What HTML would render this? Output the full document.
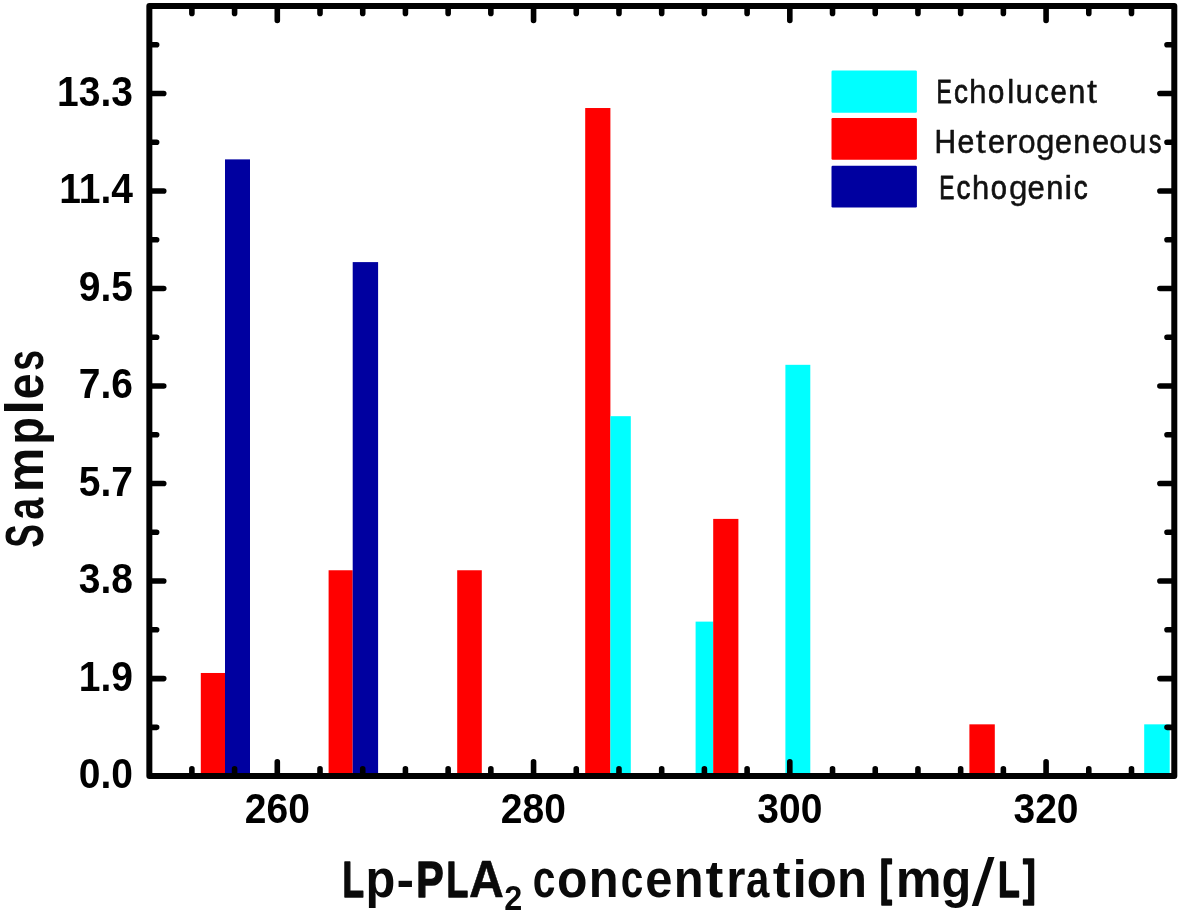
<!DOCTYPE html>
<html lang="en">
<head>
<meta charset="utf-8">
<title>Lp-PLA2 concentration histogram</title>
<style>
html,body{margin:0;padding:0;background:#fff;}
body{width:1181px;height:913px;overflow:hidden;}
svg{display:block;}
.tick{font-family:"Liberation Sans",sans-serif;font-weight:bold;font-size:39px;fill:#000;}
.leg{font-family:"Liberation Sans",sans-serif;font-size:34px;fill:#111;stroke:#111;stroke-width:0.35px;stroke-linejoin:round;}
.axl{font-family:"Liberation Sans",sans-serif;font-weight:bold;fill:#0a0a0a;stroke:#0a0a0a;stroke-width:0;stroke-linejoin:round;}
</style>
</head>
<body>
<svg width="1181" height="913" viewBox="0 0 1181 913">
<rect x="0" y="0" width="1181" height="913" fill="#ffffff"/>
<g id="bars">
<rect x="200.8" y="672.98" width="24.2" height="103.12" fill="#ff0000"/>
<rect x="225" y="159.38" width="25" height="616.72" fill="#0000a0"/>
<rect x="328.6" y="570.26" width="24.1" height="205.84" fill="#ff0000"/>
<rect x="352.7" y="262.1" width="25.4" height="514" fill="#0000a0"/>
<rect x="457.2" y="570.26" width="24.6" height="205.84" fill="#ff0000"/>
<rect x="585.2" y="108.02" width="25.2" height="668.08" fill="#ff0000"/>
<rect x="610.4" y="416.18" width="20.4" height="359.92" fill="#00ffff"/>
<rect x="695.6" y="621.62" width="17.6" height="154.48" fill="#00ffff"/>
<rect x="713.2" y="518.9" width="25.2" height="257.2" fill="#ff0000"/>
<rect x="785.4" y="364.82" width="24.9" height="411.28" fill="#00ffff"/>
<rect x="969.4" y="724.34" width="25.4" height="51.76" fill="#ff0000"/>
<rect x="1144.2" y="724.34" width="25.5" height="51.76" fill="#00ffff"/>
</g>
<g id="ticks" stroke="#000" stroke-width="5.6" stroke-linecap="round" fill="none">
<path d="M191.88 774.1 V768.8 M191.88 8.1 V13.4"/>
<path d="M234.59 774.1 V768.8 M234.59 8.1 V13.4"/>
<path d="M277.3 774.1 V761.7 M277.3 8.1 V20.5"/>
<path d="M320.01 774.1 V768.8 M320.01 8.1 V13.4"/>
<path d="M362.72 774.1 V768.8 M362.72 8.1 V13.4"/>
<path d="M405.43 774.1 V768.8 M405.43 8.1 V13.4"/>
<path d="M448.14 774.1 V768.8 M448.14 8.1 V13.4"/>
<path d="M490.85 774.1 V768.8 M490.85 8.1 V13.4"/>
<path d="M533.56 774.1 V761.7 M533.56 8.1 V20.5"/>
<path d="M576.27 774.1 V768.8 M576.27 8.1 V13.4"/>
<path d="M618.98 774.1 V768.8 M618.98 8.1 V13.4"/>
<path d="M661.69 774.1 V768.8 M661.69 8.1 V13.4"/>
<path d="M704.4 774.1 V768.8 M704.4 8.1 V13.4"/>
<path d="M747.11 774.1 V768.8 M747.11 8.1 V13.4"/>
<path d="M789.82 774.1 V761.7 M789.82 8.1 V20.5"/>
<path d="M832.53 774.1 V768.8 M832.53 8.1 V13.4"/>
<path d="M875.24 774.1 V768.8 M875.24 8.1 V13.4"/>
<path d="M917.95 774.1 V768.8 M917.95 8.1 V13.4"/>
<path d="M960.66 774.1 V768.8 M960.66 8.1 V13.4"/>
<path d="M1003.37 774.1 V768.8 M1003.37 8.1 V13.4"/>
<path d="M1046.08 774.1 V761.7 M1046.08 8.1 V20.5"/>
<path d="M1088.79 774.1 V768.8 M1088.79 8.1 V13.4"/>
<path d="M1131.5 774.1 V768.8 M1131.5 8.1 V13.4"/>
<path d="M151.35 727.34 H156.65 M1172.3 727.34 H1167"/>
<path d="M151.35 678.58 H163.75 M1172.3 678.58 H1159.9"/>
<path d="M151.35 629.82 H156.65 M1172.3 629.82 H1167"/>
<path d="M151.35 581.06 H163.75 M1172.3 581.06 H1159.9"/>
<path d="M151.35 532.3 H156.65 M1172.3 532.3 H1167"/>
<path d="M151.35 483.54 H163.75 M1172.3 483.54 H1159.9"/>
<path d="M151.35 434.78 H156.65 M1172.3 434.78 H1167"/>
<path d="M151.35 386.02 H163.75 M1172.3 386.02 H1159.9"/>
<path d="M151.35 337.26 H156.65 M1172.3 337.26 H1167"/>
<path d="M151.35 288.5 H163.75 M1172.3 288.5 H1159.9"/>
<path d="M151.35 239.74 H156.65 M1172.3 239.74 H1167"/>
<path d="M151.35 190.98 H163.75 M1172.3 190.98 H1159.9"/>
<path d="M151.35 142.22 H156.65 M1172.3 142.22 H1167"/>
<path d="M151.35 93.46 H163.75 M1172.3 93.46 H1159.9"/>
<path d="M151.35 44.7 H156.65 M1172.3 44.7 H1167"/>
</g>
<rect x="149.35" y="6.1" width="1024.95" height="770" fill="none" stroke="#000" stroke-width="6" stroke-linejoin="round"/>
<g class="tick" text-anchor="middle">
<text transform="translate(277.3 823.2) scale(1 1.085)">260</text>
<text transform="translate(533.3 823.2) scale(1 1.085)">280</text>
<text transform="translate(789.8 823.2) scale(1 1.085)">300</text>
<text transform="translate(1046 823.2) scale(1 1.085)">320</text>
</g>
<g class="tick" text-anchor="end">
<text transform="translate(133 788.2) scale(1 1.085)">0.0</text>
<text transform="translate(133 690.68) scale(1 1.085)">1.9</text>
<text transform="translate(133 593.16) scale(1 1.085)">3.8</text>
<text transform="translate(133 495.64) scale(1 1.085)">5.7</text>
<text transform="translate(133 398.12) scale(1 1.085)">7.6</text>
<text transform="translate(133 300.6) scale(1 1.085)">9.5</text>
<text transform="translate(133 203.08) scale(1 1.085)">11.4</text>
<text transform="translate(133 105.56) scale(1 1.085)">13.3</text>
</g>
<g id="legend">
<rect x="831.5" y="70.6" width="85.4" height="42.1" rx="1.2" fill="#00ffff"/>
<rect x="831.5" y="118" width="85.4" height="41.8" rx="1.2" fill="#ff0000"/>
<rect x="831.5" y="165.8" width="85.4" height="41.7" rx="1.2" fill="#0000a0"/>
<text class="leg" y="103"><tspan x="936.4" y="102.6" font-size="32.84" stroke-width="0.8" textLength="15.31" lengthAdjust="spacingAndGlyphs">E</tspan><tspan x="953.96" y="102.6" font-size="32.84" stroke-width="0.8" textLength="13.94" lengthAdjust="spacingAndGlyphs">c</tspan><tspan x="969.07" y="102.83" font-size="33.49" textLength="17.62" lengthAdjust="spacingAndGlyphs">h</tspan><tspan x="988.1" y="102.62" font-size="32.91" stroke-width="0.75" textLength="16.29" lengthAdjust="spacingAndGlyphs">o</tspan><tspan x="1006.92" y="102.83" font-size="33.49" textLength="7.44" lengthAdjust="spacingAndGlyphs">l</tspan><tspan x="1015.7" y="102.69" font-size="33.1" stroke-width="0.62" textLength="17.05" lengthAdjust="spacingAndGlyphs">u</tspan><tspan x="1034.76" y="102.6" font-size="32.84" stroke-width="0.8" textLength="13.94" lengthAdjust="spacingAndGlyphs">c</tspan><tspan x="1050.39" y="102.62" font-size="32.9" stroke-width="0.75" textLength="16.27" lengthAdjust="spacingAndGlyphs">e</tspan><tspan x="1068.15" y="102.69" font-size="33.1" stroke-width="0.62" textLength="17.05" lengthAdjust="spacingAndGlyphs">n</tspan><tspan x="1086.93" y="102.83" font-size="33.49" textLength="10.05" lengthAdjust="spacingAndGlyphs">t</tspan></text>
<text class="leg" y="153.6"><tspan x="934.48" y="153.24" font-size="32.97" stroke-width="0.71" textLength="21.53" lengthAdjust="spacingAndGlyphs">H</tspan><tspan x="957.62" y="153.27" font-size="33.04" stroke-width="0.66" textLength="16.82" lengthAdjust="spacingAndGlyphs">e</tspan><tspan x="975.83" y="153.42" font-size="33.49" textLength="10.05" lengthAdjust="spacingAndGlyphs">t</tspan><tspan x="988" y="153.28" font-size="33.07" stroke-width="0.64" textLength="16.96" lengthAdjust="spacingAndGlyphs">e</tspan><tspan x="1005.52" y="153.42" font-size="33.49" textLength="11.89" lengthAdjust="spacingAndGlyphs">r</tspan><tspan x="1017.93" y="153.42" font-size="33.49" textLength="17.63" lengthAdjust="spacingAndGlyphs">o</tspan><tspan x="1036.08" y="153.42" font-size="33.49" textLength="18.49" lengthAdjust="spacingAndGlyphs">g</tspan><tspan x="1054.9" y="153.28" font-size="33.07" stroke-width="0.64" textLength="16.96" lengthAdjust="spacingAndGlyphs">e</tspan><tspan x="1073.25" y="153.29" font-size="33.1" stroke-width="0.62" textLength="17.05" lengthAdjust="spacingAndGlyphs">n</tspan><tspan x="1092.22" y="153.27" font-size="33.04" stroke-width="0.66" textLength="16.82" lengthAdjust="spacingAndGlyphs">e</tspan><tspan x="1109.2" y="153.42" font-size="33.49" textLength="18.09" lengthAdjust="spacingAndGlyphs">o</tspan><tspan x="1128.78" y="153.42" font-size="33.49" textLength="17.89" lengthAdjust="spacingAndGlyphs">u</tspan><tspan x="1149.01" y="153.2" font-size="32.84" stroke-width="0.8" textLength="12.38" lengthAdjust="spacingAndGlyphs">s</tspan></text>
<text class="leg" y="199.1"><tspan x="939.21" y="198.7" font-size="32.84" stroke-width="0.8" textLength="15.19" lengthAdjust="spacingAndGlyphs">E</tspan><tspan x="956.46" y="198.7" font-size="32.84" stroke-width="0.8" textLength="13.94" lengthAdjust="spacingAndGlyphs">c</tspan><tspan x="971.93" y="198.8" font-size="33.13" stroke-width="0.6" textLength="17.2" lengthAdjust="spacingAndGlyphs">h</tspan><tspan x="990.72" y="198.71" font-size="32.87" stroke-width="0.78" textLength="16.15" lengthAdjust="spacingAndGlyphs">o</tspan><tspan x="1008.98" y="198.92" font-size="33.49" textLength="18.49" lengthAdjust="spacingAndGlyphs">g</tspan><tspan x="1027.56" y="198.8" font-size="33.14" stroke-width="0.59" textLength="17.24" lengthAdjust="spacingAndGlyphs">e</tspan><tspan x="1046.15" y="198.79" font-size="33.1" stroke-width="0.62" textLength="17.05" lengthAdjust="spacingAndGlyphs">n</tspan><tspan x="1064.39" y="198.92" font-size="33.49" textLength="8.04" lengthAdjust="spacingAndGlyphs">i</tspan><tspan x="1073.76" y="198.7" font-size="32.84" stroke-width="0.8" textLength="13.94" lengthAdjust="spacingAndGlyphs">c</tspan></text>
</g>
<g class="axl">
<text transform="translate(43.1 549) rotate(-90)" font-size="53"><tspan x="1.13" y="0" textLength="23.6" lengthAdjust="spacingAndGlyphs">S</tspan><tspan x="29.29" y="0" textLength="22.01" lengthAdjust="spacingAndGlyphs">a</tspan><tspan x="56.63" y="0" textLength="44.74" lengthAdjust="spacingAndGlyphs">m</tspan><tspan x="104.51" y="0" textLength="27.27" lengthAdjust="spacingAndGlyphs">p</tspan><tspan x="134.31" y="0" textLength="14.73" lengthAdjust="spacingAndGlyphs">l</tspan><tspan x="149.63" y="0" textLength="25.91" lengthAdjust="spacingAndGlyphs">e</tspan><tspan x="178.34" y="0" textLength="20.74" lengthAdjust="spacingAndGlyphs">s</tspan></text>
<text font-size="51" y="897.3"><tspan x="342.55" y="896.5" font-size="50.47" stroke-width="1.6" textLength="21.52" lengthAdjust="spacingAndGlyphs">L</tspan><tspan x="365.53" y="897.3" textLength="29.82" lengthAdjust="spacingAndGlyphs">p</tspan><tspan x="396.49" y="897.3" textLength="17.57" lengthAdjust="spacingAndGlyphs">-</tspan><tspan x="416.16" y="896.5" font-size="50.47" stroke-width="1.6" textLength="27.34" lengthAdjust="spacingAndGlyphs">P</tspan><tspan x="446.53" y="896.5" font-size="50.47" stroke-width="1.6" textLength="21.75" lengthAdjust="spacingAndGlyphs">L</tspan><tspan x="469.01" y="897.02" font-size="51.98" stroke-width="0.57" textLength="34.85" lengthAdjust="spacingAndGlyphs">A</tspan><tspan x="504.23" y="909.9" font-size="35.5" textLength="18.02" lengthAdjust="spacingAndGlyphs">2</tspan> <tspan x="532.86" y="897.3" textLength="22.69" lengthAdjust="spacingAndGlyphs">c</tspan><tspan x="557.1" y="897.3" textLength="30.5" lengthAdjust="spacingAndGlyphs">o</tspan><tspan x="588.83" y="897.3" textLength="29.85" lengthAdjust="spacingAndGlyphs">n</tspan><tspan x="620.86" y="897.3" textLength="22.57" lengthAdjust="spacingAndGlyphs">c</tspan><tspan x="645.14" y="897.3" textLength="27.18" lengthAdjust="spacingAndGlyphs">e</tspan><tspan x="673.83" y="897.3" textLength="29.85" lengthAdjust="spacingAndGlyphs">n</tspan><tspan x="705.5" y="897.3" textLength="17.81" lengthAdjust="spacingAndGlyphs">t</tspan><tspan x="726.2" y="897.3" textLength="19.2" lengthAdjust="spacingAndGlyphs">r</tspan><tspan x="746.02" y="897.3" textLength="23.36" lengthAdjust="spacingAndGlyphs">a</tspan><tspan x="772.8" y="897.3" textLength="17.81" lengthAdjust="spacingAndGlyphs">t</tspan><tspan x="792.64" y="897.3" textLength="14.38" lengthAdjust="spacingAndGlyphs">i</tspan><tspan x="806.63" y="897.3" textLength="30.04" lengthAdjust="spacingAndGlyphs">o</tspan><tspan x="837.01" y="897.3" textLength="29.98" lengthAdjust="spacingAndGlyphs">n</tspan> <tspan x="879.77" y="894.9" font-size="50.17" stroke-width="1.6" textLength="12.24" lengthAdjust="spacingAndGlyphs">[</tspan><tspan x="895.65" y="897.3" textLength="45.9" lengthAdjust="spacingAndGlyphs">m</tspan><tspan x="941.45" y="897.3" textLength="29.76" lengthAdjust="spacingAndGlyphs">g</tspan><tspan x="971.75" y="904.6" font-size="67" font-weight="normal" textLength="22.8" lengthAdjust="spacingAndGlyphs">/</tspan><tspan x="997.93" y="896.5" font-size="50.47" stroke-width="1.6" textLength="21.75" lengthAdjust="spacingAndGlyphs">L</tspan><tspan x="1023.09" y="894.9" font-size="50.17" stroke-width="1.6" textLength="12.8" lengthAdjust="spacingAndGlyphs">]</tspan></text>
</g>
</svg>
</body>
</html>
